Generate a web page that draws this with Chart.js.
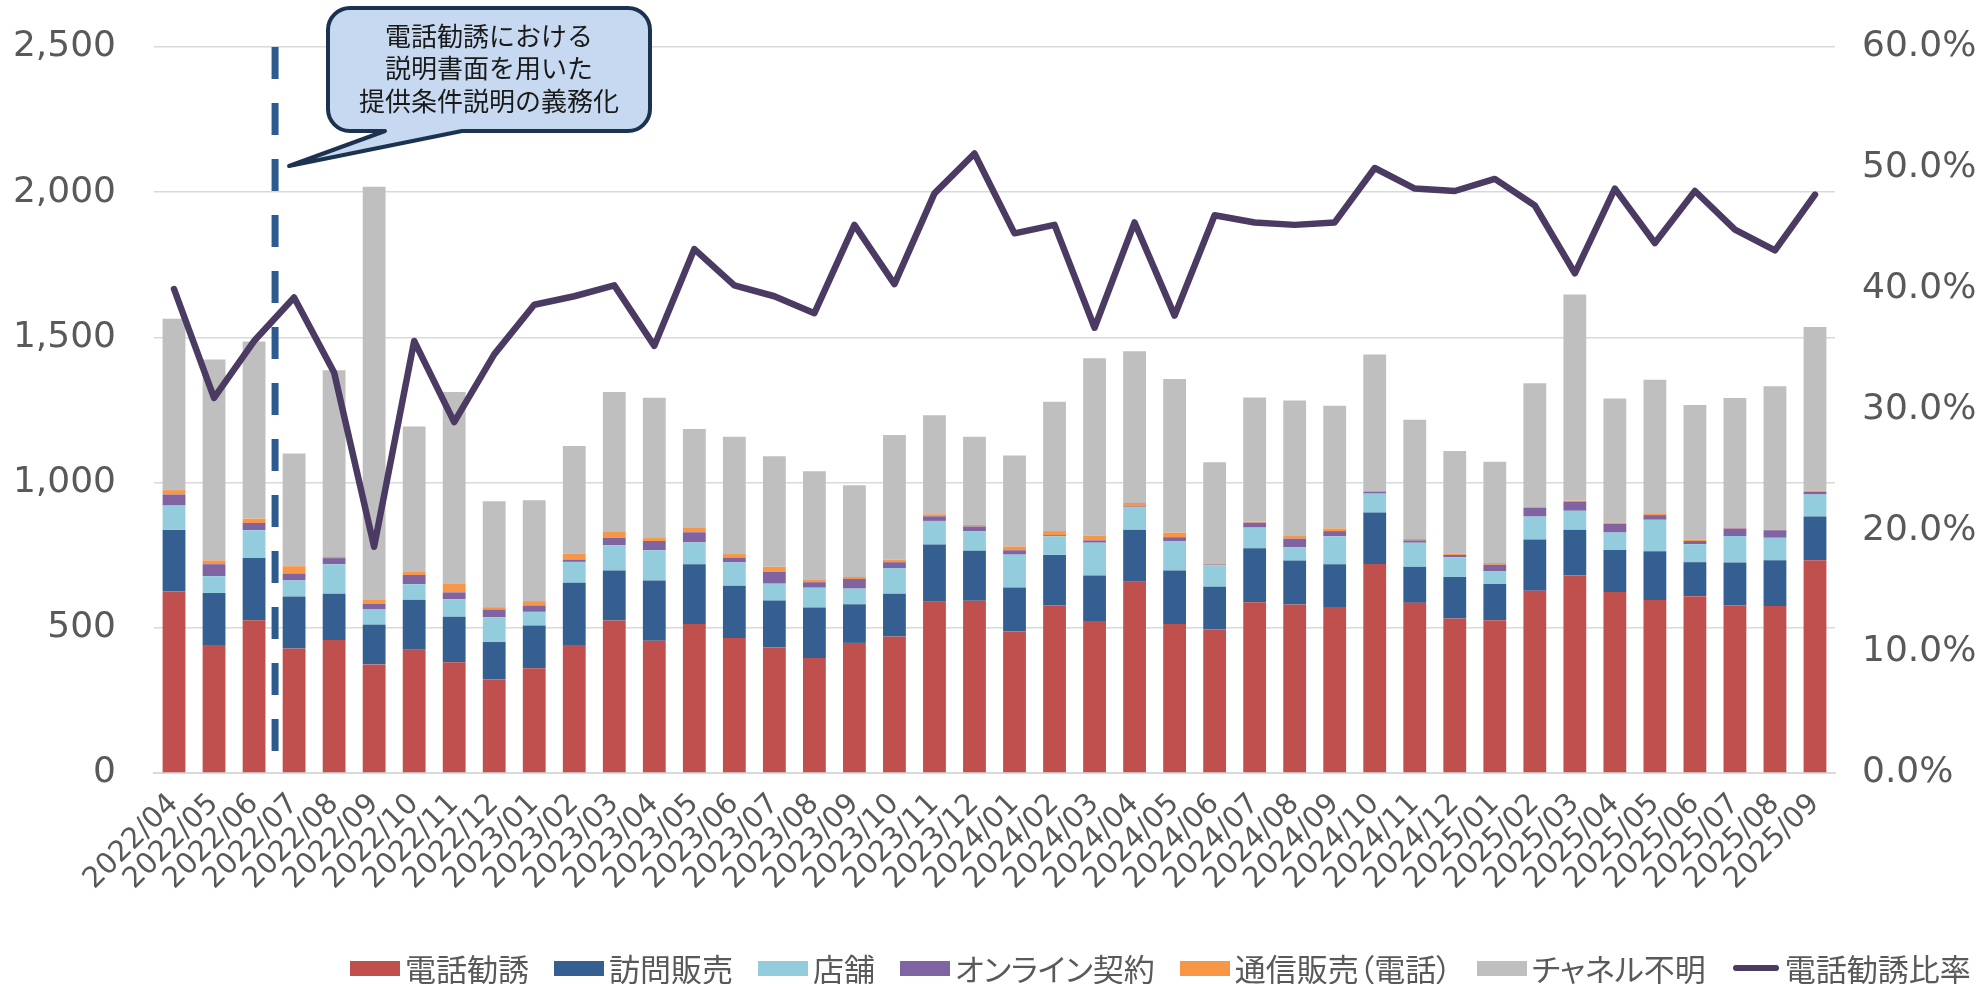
<!DOCTYPE html>
<html lang="ja">
<head>
<meta charset="utf-8">
<title>電話勧誘 販売チャネル別件数と電話勧誘比率</title>
<script src="https://cdn.jsdelivr.net/npm/chart.js@4.4.1/dist/chart.umd.min.js"></script>
<style>
  html, body { margin: 0; padding: 0; background: #fff; }
  .wrap { position: relative; width: 1981px; height: 984px; overflow: hidden; }
  #channelChart { position: absolute; left: 0; top: 0; }
  .legend {
    position: absolute; left: 350px; top: 951px;
    display: flex; align-items: center; gap: 25px;
    font-family: 'Noto Sans CJK JP', sans-serif; font-size: 31px; line-height: 34px;
    font-feature-settings: 'palt'; color: #595959; white-space: nowrap;
  }
  .legend-item { display: flex; align-items: center; }
  .legend-box { width: 50px; height: 15px; margin-right: 5px; }
  .legend-line { width: 46px; height: 6px; border-radius: 3px; margin: 0 6px 0 2px; }
</style>
</head>
<body>
<div class="wrap">
  <canvas id="channelChart" width="1981" height="984"></canvas>
  <div class="legend" id="chartLegend"></div>
</div>
<script>
'use strict';

/* ── データ ── */
const MONTHS = [
  '2022/04','2022/05','2022/06','2022/07','2022/08','2022/09','2022/10','2022/11','2022/12',
  '2023/01','2023/02','2023/03','2023/04','2023/05','2023/06','2023/07','2023/08','2023/09','2023/10','2023/11','2023/12',
  '2024/01','2024/02','2024/03','2024/04','2024/05','2024/06','2024/07','2024/08','2024/09','2024/10','2024/11','2024/12',
  '2025/01','2025/02','2025/03','2025/04','2025/05','2025/06','2025/07','2025/08','2025/09'
];

const PHONE     = [625,441,526,429,458,374,424,381,323,361,441,525,455,513,465,432,396,448,470,590,593,487,578,523,659,513,494,588,580,572,720,586,532,526,628,680,623,596,609,578,575,733];
const VISIT     = [212,179,214,179,159,137,173,157,128,147,214,172,208,206,180,162,174,133,147,197,172,152,173,157,179,184,147,186,152,147,177,124,143,125,176,158,145,168,117,147,158,150];
const STORE     = [84,58,96,55,102,52,53,60,85,47,72,87,104,75,80,58,68,54,89,81,68,113,64,113,78,102,74,71,45,96,65,83,68,43,79,65,60,108,62,91,77,76];
const ONLINE    = [38,41,25,24,21,20,32,24,27,22,8,26,32,35,17,41,19,33,20,16,16,15,4,8,2,13,3,17,30,18,6,8,8,23,30,32,30,16,11,26,26,9];
const MAILPHONE = [15,13,15,25,4,14,10,30,8,15,20,22,10,15,12,17,10,7,9,7,5,13,14,16,12,16,4,3,9,9,3,5,4,6,3,3,4,6,5,4,3,4];
const UNKNOWN   = [590,692,610,388,643,1422,501,660,365,347,371,480,483,341,404,381,372,316,429,341,304,313,445,611,522,529,348,428,467,423,470,410,354,349,426,710,428,460,463,445,493,564];
const PHONE_RATIO = [40.0,31.0,35.7,39.3,33.1,18.7,35.7,29.0,34.6,38.7,39.4,40.3,35.3,43.3,40.3,39.4,38.0,45.3,40.4,47.9,51.2,44.6,45.3,36.8,45.5,37.8,46.1,45.5,45.3,45.5,50.0,48.3,48.1,49.1,46.9,41.3,48.3,43.8,48.1,44.9,43.2,47.8];

const LEFT_TICKS  = [0, 500, 1000, 1500, 2000, 2500];
const RIGHT_TICKS = [0, 10, 20, 30, 40, 50, 60];

const CALLOUT_LINES = ['電話勧誘における', '説明書面を用いた', '提供条件説明の義務化'];

const SERIES = [
  { label: '電話勧誘',         data: PHONE,     color: '#C0504D' },
  { label: '訪問販売',         data: VISIT,     color: '#355F91' },
  { label: '店舗',             data: STORE,     color: '#93CDDD' },
  { label: 'オンライン契約',   data: ONLINE,    color: '#8064A2' },
  { label: '通信販売（電話）', data: MAILPHONE, color: '#F79646' },
  { label: 'チャネル不明',     data: UNKNOWN,   color: '#BFBFBF' },
];
const RATIO_LABEL = '電話勧誘比率';
const RATIO_COLOR = '#4B3A62';

const TICK_FONT = "'DejaVu Sans', 'Noto Sans CJK JP', sans-serif";
const GRID = '#D9D9D9';
const TEXT = '#595959';

/* ── 義務化マーカー: 破線 + 吹き出し ── */
const policyMarker = {
  id: 'policyMarker',
  beforeDatasetsDraw(chart) {
    const { ctx, chartArea, scales } = chart;
    const x = scales.x.getPixelForValue(2.5) + 1;
    ctx.save();
    ctx.strokeStyle = '#2E5B8E';
    ctx.lineWidth = 7;
    ctx.setLineDash([32, 24]);
    ctx.beginPath();
    ctx.moveTo(x, chartArea.top);
    ctx.lineTo(x, chartArea.bottom - 22);
    ctx.stroke();
    ctx.restore();
  },
  afterDraw(chart) {
    const { ctx, scales } = chart;
    const tipX = scales.x.getPixelForValue(2.5) + 15;
    const x0 = 328, y0 = 8, x1 = 650, y1 = 131, r = 22;
    ctx.save();
    ctx.beginPath();
    ctx.moveTo(x0 + r, y0);
    ctx.lineTo(x1 - r, y0);
    ctx.arcTo(x1, y0, x1, y0 + r, r);
    ctx.lineTo(x1, y1 - r);
    ctx.arcTo(x1, y1, x1 - r, y1, r);
    ctx.lineTo(462, y1);
    ctx.lineTo(tipX, 166);
    ctx.lineTo(385, y1);
    ctx.lineTo(x0 + r, y1);
    ctx.arcTo(x0, y1, x0, y1 - r, r);
    ctx.lineTo(x0, y0 + r);
    ctx.arcTo(x0, y0, x0 + r, y0, r);
    ctx.closePath();
    ctx.fillStyle = '#C6D9F0';
    ctx.fill();
    ctx.lineWidth = 4;
    ctx.lineJoin = 'round';
    ctx.strokeStyle = '#1B3350';
    ctx.stroke();

    ctx.fillStyle = '#1A1A1A';
    ctx.font = "26px 'Noto Sans CJK JP', sans-serif";
    ctx.textAlign = 'center';
    ctx.textBaseline = 'middle';
    CALLOUT_LINES.forEach((line, i) => ctx.fillText(line, (x0 + x1) / 2, 36 + i * 32.5));
    ctx.restore();
  }
};

/* 軸幅を固定し、端ラベル分の余白を消す */
function fixAxisWidth(width) {
  return (scale) => {
    scale.width = width;
    scale.paddingTop = 0;
    scale.paddingBottom = 0;
  };
}

/* ── チャート本体 ── */
function buildChannelChart() {
  const canvas = document.getElementById('channelChart');

  const barSets = SERIES.map(s => ({
    type: 'bar',
    label: s.label,
    data: s.data,
    backgroundColor: s.color,
    yAxisID: 'y',
    order: 1,
    barPercentage: 0.57,
    categoryPercentage: 1.0,
  }));

  const ratioSet = {
    type: 'line',
    label: RATIO_LABEL,
    data: PHONE_RATIO,
    borderColor: RATIO_COLOR,
    borderWidth: 6.5,
    borderJoinStyle: 'round',
    borderCapStyle: 'round',
    pointRadius: 0,
    tension: 0,
    yAxisID: 'y1',
    order: 0,
  };

  new Chart(canvas, {
    data: { labels: MONTHS, datasets: [...barSets, ratioSet] },
    options: {
      responsive: false,
      animation: false,
      devicePixelRatio: 1,
      layout: { padding: { top: 47, left: 0, right: 0, bottom: 0 } },
      plugins: {
        legend: { display: false },
        tooltip: { enabled: false },
      },
      scales: {
        x: {
          stacked: true,
          grid: { display: false, drawTicks: false },
          border: { display: true, color: GRID, width: 2 },
          ticks: {
            autoSkip: false, minRotation: 45, maxRotation: 45, padding: 14,
            color: TEXT, font: { family: TICK_FONT, size: 29 },
          },
          afterFit: (scale) => { scale.height = 211; },
        },
        y: {
          stacked: true,
          position: 'left',
          min: 0, max: 2500,
          afterBuildTicks: (scale) => { scale.ticks = LEFT_TICKS.map(v => ({ value: v })); },
          grid: { color: GRID, lineWidth: 1.5, drawTicks: false },
          border: { display: false },
          ticks: {
            padding: 38, color: TEXT, font: { family: TICK_FONT, size: 36 },
            callback: v => v.toLocaleString('en-US'),
          },
          afterFit: fixAxisWidth(154),
        },
        y1: {
          position: 'right',
          min: 0, max: 60,
          afterBuildTicks: (scale) => { scale.ticks = RIGHT_TICKS.map(v => ({ value: v })); },
          grid: { display: false, drawTicks: false },
          border: { display: false },
          ticks: {
            padding: 27, color: TEXT, font: { family: TICK_FONT, size: 36 },
            callback: v => v.toFixed(1) + '%',
          },
          afterFit: fixAxisWidth(146),
        },
      },
    },
    plugins: [policyMarker],
  });
}

/* ── 凡例 (HTML) ── */
function buildLegend() {
  const el = document.getElementById('chartLegend');
  SERIES.forEach(s => {
    const item = document.createElement('div');
    item.className = 'legend-item';
    item.innerHTML = `<span class="legend-box" style="background:${s.color}"></span><span>${s.label}</span>`;
    el.appendChild(item);
  });
  const line = document.createElement('div');
  line.className = 'legend-item';
  line.innerHTML = `<span class="legend-line" style="background:${RATIO_COLOR}"></span><span>${RATIO_LABEL}</span>`;
  el.appendChild(line);
}

buildChannelChart();
buildLegend();
</script>
</body>
</html>
